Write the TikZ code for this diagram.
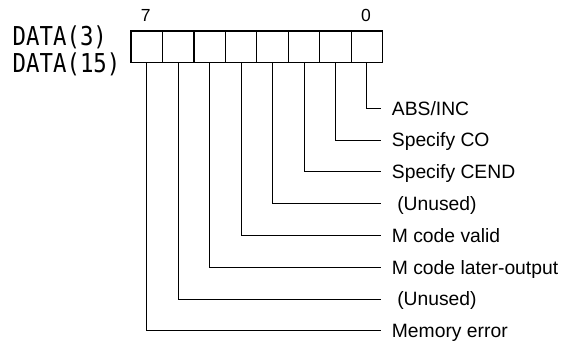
\documentclass[tikz,border=0pt]{standalone}
\usepackage{fontspec}
\setmainfont{Liberation Sans}
\newfontfamily\datafont[FakeStretch=0.86]{DejaVu Sans Mono}
\begin{document}
\begin{tikzpicture}[x=1pt,y=-1pt,
  cell/.style={draw, line width=1.2pt, minimum width=31.45pt, minimum height=31.7pt, inner sep=0pt, outer sep=0pt},
  lbl/.style={anchor=west, inner sep=0pt, text height=13.6pt, text depth=0pt, font=\fontsize{19.3}{22}\selectfont},
  bitnum/.style={anchor=base, inner sep=0pt, font=\fontsize{17.5}{20}\selectfont},
  datalbl/.style={anchor=base west, inner sep=0pt, font=\datafont\fontsize{26}{28}\selectfont},
  conn/.style={line width=0.9pt}]
\useasboundingbox (0,0) rectangle (567,342);
\foreach \k in {0,...,7}{
  \node[cell] (b\k) at ({131+31.45*(7-\k)+15.725},46.85) {};
}
\node[bitnum] (n7) at ([xshift=-1pt]b7.center |- 0,21.7) {7};
\node[bitnum] (n0) at ([xshift=-1pt]b0.center |- 0,21.7) {0};
\node[datalbl] (d3) at (12.5,45.5) {DATA(3)};
\node[datalbl] (d15) at (12.5,73) {DATA(15)};
\node[lbl] (l0) at (391.7,108.3) {ABS/INC};
\node[lbl] (l1) at (391.7,140.1) {Specify CO};
\node[lbl] (l2) at (391.7,171.9) {Specify CEND};
\node[lbl] (l3) at (391.7,203.7) {\ (Unused)};
\node[lbl] (l4) at (391.7,235.5) {M code valid};
\node[lbl] (l5) at (391.7,267.3) {M code later-output};
\node[lbl] (l6) at (391.7,299.1) {\ (Unused)};
\node[lbl] (l7) at (391.7,330.9) {Memory error};
\foreach \k in {0,...,7}{
  \draw[conn] (b\k.south) |- ([xshift=-11pt]l\k.west);
}
\end{tikzpicture}
\end{document}
